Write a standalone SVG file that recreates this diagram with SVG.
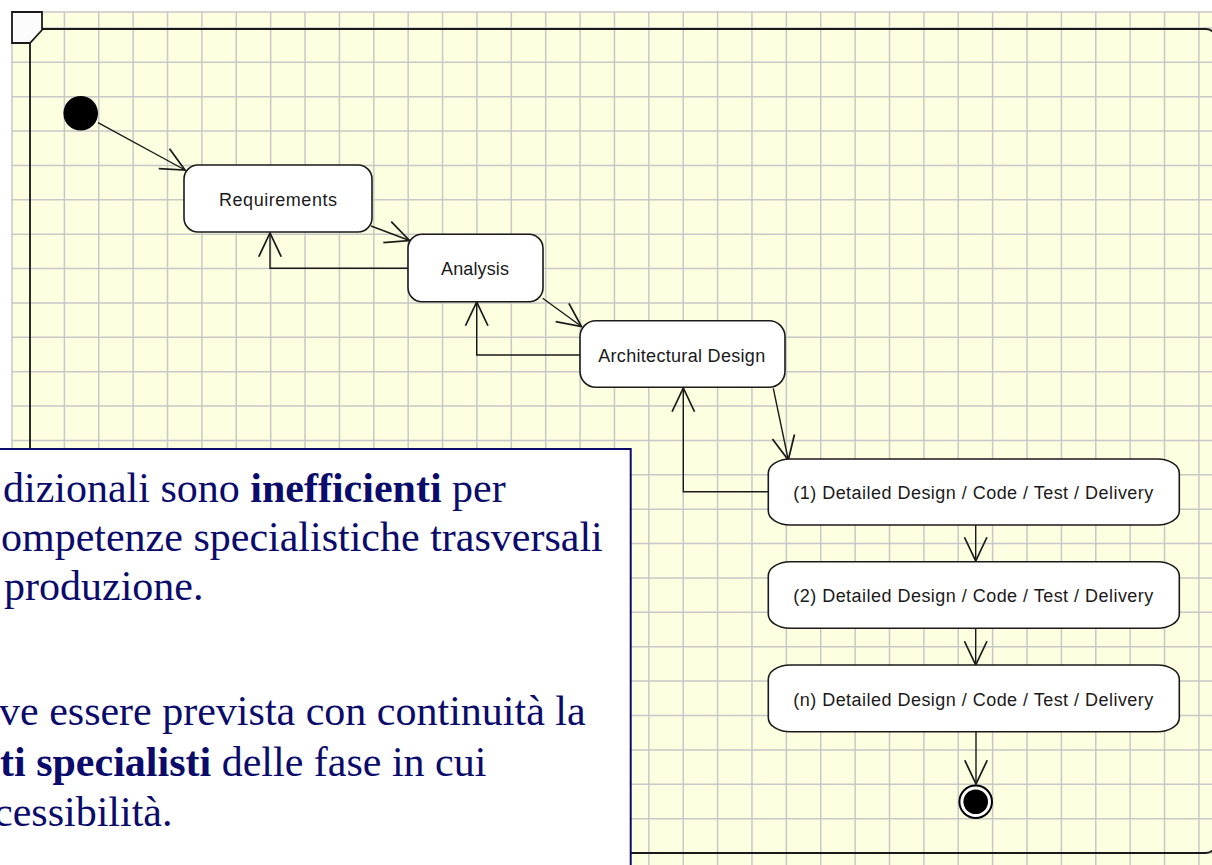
<svg xmlns="http://www.w3.org/2000/svg" width="1212" height="865" viewBox="0 0 1212 865">
<style>
.grid{stroke:#c8c8c8;stroke-width:1.5;fill:none}
.node rect{fill:#ffffff;stroke:#1a1a1a;stroke-width:1.6}
.lbl{font-family:"Liberation Sans",Arial,sans-serif;font-size:18px;fill:#1a1a1a;text-anchor:middle}
.conn{stroke:#1a1a1a;stroke-width:1.4;fill:none;marker-end:url(#arr)}
.note{font-family:"Liberation Serif","Times New Roman",serif;font-size:42px;fill:#0b0b6b}
.b{font-weight:bold}
</style>
<defs>
<marker id="arr" markerUnits="userSpaceOnUse" markerWidth="30" markerHeight="30" refX="0" refY="0" viewBox="-22 -12 24 24" orient="auto" overflow="visible">
<path d="M-19,-9 L0,0 L-19,9" fill="none" stroke="#1a1a1a" stroke-width="1.4"/>
</marker>
</defs>
<rect x="0" y="0" width="1212" height="865" fill="#ffffff"/>
<rect x="12" y="12" width="1210" height="870" fill="#fefee0" stroke="#c8c8c8" stroke-width="1.5"/>
<path class="grid" d="M30,12V865M64.38,12V865M98.76,12V865M133.14,12V865M167.52,12V865M201.9,12V865M236.28,12V865M270.66,12V865M305.04,12V865M339.42,12V865M373.8,12V865M408.18,12V865M442.56,12V865M476.94,12V865M511.32,12V865M545.7,12V865M580.08,12V865M614.46,12V865M648.84,12V865M683.22,12V865M717.6,12V865M751.98,12V865M786.36,12V865M820.74,12V865M855.12,12V865M889.5,12V865M923.88,12V865M958.26,12V865M992.64,12V865M1027.02,12V865M1061.4,12V865M1095.78,12V865M1130.16,12V865M1164.54,12V865M1198.92,12V865M12,27.9H1212M12,62.28H1212M12,96.66H1212M12,131.04H1212M12,165.42H1212M12,199.8H1212M12,234.18H1212M12,268.56H1212M12,302.94H1212M12,337.32H1212M12,371.7H1212M12,406.08H1212M12,440.46H1212M12,474.84H1212M12,509.22H1212M12,543.6H1212M12,577.98H1212M12,612.36H1212M12,646.74H1212M12,681.12H1212M12,715.5H1212M12,749.88H1212M12,784.26H1212M12,818.64H1212M12,853.02H1212"/>
<g id="frame">
<rect x="30" y="29" width="1186" height="824" rx="10" fill="none" stroke="#1a1a1a" stroke-width="1.8"/>
<path d="M12,12 H42 V30 L30,43 H12 Z" fill="#fcfcfc" stroke="#1a1a1a" stroke-width="1.8"/>
</g>
<g id="connectors">
<path class="conn" d="M98,122.7 L185,170"/>
<path class="conn" d="M371,226 L409.5,240.5"/>
<path class="conn" d="M542.7,298.3 L581.5,326.5"/>
<path class="conn" d="M773.3,388.3 L788.3,460"/>
<path class="conn" d="M975.7,525 V561"/>
<path class="conn" d="M975.7,628.3 V665"/>
<path class="conn" d="M976,731.7 V784"/>
<path class="conn" d="M408,268.3 H270 V233"/>
<path class="conn" d="M580,355 H476.7 V302"/>
<path class="conn" d="M769,491.7 H683.3 V388"/>
</g>
<g id="start"><circle cx="80.7" cy="113.3" r="17.3" fill="#000"/></g>
<g id="requirements" class="node"><rect x="184" y="165" width="188" height="67" rx="14"/><text class="lbl" x="278" y="206" textLength="118" lengthAdjust="spacing">Requirements</text></g>
<g id="analysis" class="node"><rect x="408" y="234.3" width="135" height="67.4" rx="14"/><text class="lbl" x="475" y="274.5" textLength="68" lengthAdjust="spacing">Analysis</text></g>
<g id="architectural" class="node"><rect x="580" y="320.7" width="205" height="66.6" rx="16"/><text class="lbl" x="681.7" y="361.7" textLength="167" lengthAdjust="spacing">Architectural Design</text></g>
<g id="detail1" class="node"><rect x="768.3" y="459" width="411" height="66" rx="22" ry="14"/><text class="lbl" x="973.3" y="499.3" textLength="360" lengthAdjust="spacing">(1) Detailed Design / Code / Test / Delivery</text></g>
<g id="detail2" class="node"><rect x="768.3" y="561.7" width="411" height="66.6" rx="22" ry="14"/><text class="lbl" x="973.3" y="602.3" textLength="360" lengthAdjust="spacing">(2) Detailed Design / Code / Test / Delivery</text></g>
<g id="detailn" class="node"><rect x="768.3" y="665" width="411" height="66.7" rx="22" ry="14"/><text class="lbl" x="973.3" y="705.7" textLength="360" lengthAdjust="spacing">(n) Detailed Design / Code / Test / Delivery</text></g>
<g id="final"><circle cx="975.7" cy="801.7" r="16.3" fill="#fff" stroke="#000" stroke-width="2"/><circle cx="975.7" cy="801.7" r="12.3" fill="#000"/></g>
<g id="note">
<rect x="-10" y="449" width="640.7" height="430" fill="#ffffff" stroke="#0b0b6b" stroke-width="2"/>
<text class="note" x="3" y="502">dizionali sono <tspan class="b">inefficienti</tspan> per</text>
<text class="note" x="1" y="551">ompetenze specialistiche trasversali</text>
<text class="note" x="4" y="600">produzione.</text>
<text class="note" x="-1" y="725">ve essere prevista con continuità la</text>
<text class="note" x="0" y="776"><tspan class="b">ti specialisti</tspan> delle fase in cui</text>
<text class="note" x="-6" y="826">cessibilità.</text>
</g>
</svg>
